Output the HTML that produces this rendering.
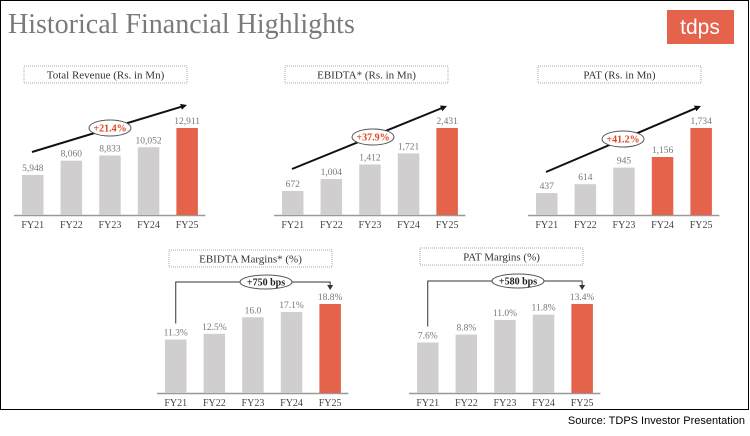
<!DOCTYPE html>
<html><head><meta charset="utf-8"><style>
body{margin:0;background:#fff;width:750px;height:431px;overflow:hidden;font-family:"Liberation Serif",serif}
svg text{font-family:"Liberation Serif",serif}
</style></head><body>
<svg id="s" width="750" height="431" xmlns="http://www.w3.org/2000/svg">
<rect x="0.5" y="0.5" width="748" height="409" fill="#fff" stroke="#000"/>
<text x="8" y="33" font-size="28" fill="#7a7a7a">Historical Financial Highlights</text>
<rect x="667" y="10" width="67" height="34" fill="#e5624b"/>
<text x="700" y="34" font-size="21" fill="#fff" text-anchor="middle" style="font-family:'Liberation Sans',sans-serif">tdps</text>
<text x="745" y="424" font-size="11" fill="#000" text-anchor="end" style="font-family:'Liberation Sans',sans-serif">Source: TDPS Investor Presentation</text>
</svg>
<script>
const categories=["FY21","FY22","FY23","FY24","FY25"];
const revenueValues=[5948,8060,8833,10052,12911];
const revenueLabels=["5,948","8,060","8,833","10,052","12,911"];
const ebitdaValues=[672,1004,1412,1721,2431];
const ebitdaLabels=["672","1,004","1,412","1,721","2,431"];
const patValues=[437,614,945,1156,1734];
const patLabels=["437","614","945","1,156","1,734"];
const ebitdaMarginValues=[11.3,12.5,16.0,17.1,18.8];
const ebitdaMarginLabels=["11.3%","12.5%","16.0","17.1%","18.8%"];
const patMarginValues=[7.6,8.8,11.0,11.8,13.4];
const patMarginLabels=["7.6%","8.8%","11.0%","11.8%","13.4%"];
const NS="http://www.w3.org/2000/svg",svg=document.getElementById('s');
function el(t,a,txt){const e=document.createElementNS(NS,t);for(const k in a)e.setAttribute(k,a[k]);if(txt!==undefined)e.textContent=txt;svg.appendChild(e);return e;}
function chart(o){
  const {x0,base,maxH,vals,labs,red,title,tx,ty,key}=o;
  const maxV=Math.max(...vals);
  const y=v=>base-v/maxV*maxH;
  const bx=i=>x0+i*38.6;
  const t=el('rect',{x:tx,y:ty,width:163,height:17,fill:'#fff',stroke:'#aaa','stroke-dasharray':'1,1'});
  
  const tt=el('text',{x:tx+81.5,y:ty+12.5,'font-size':11,'text-anchor':'middle',fill:'#333'},title);
  
  const ax=el('line',{x1:x0-8,x2:x0+4*38.6+29,y1:base+0.5,y2:base+0.5,stroke:'#999','stroke-width':1.5});
  
  vals.forEach((v,i)=>{
    const r=el('rect',{x:bx(i),y:y(v),width:21.5,height:base-y(v),fill:red.includes(i)?'#e5624b':'#d0cece'});
    
    const l=el('text',{x:bx(i)+10.75,y:y(v)-4,'font-size':9.5,'text-anchor':'middle',fill:'#777'},labs[i]);
    
    const c=el('text',{x:bx(i)+10.75,y:base+13,'font-size':10,'text-anchor':'middle',fill:'#444'},categories[i]);
    
  });
  return {y,bx};
}
function growArrow(x1,y1,x2,y2,cx,cy,txt,key){
  const a=Math.atan2(y2-y1,x2-x1),s=7;
  const l=el('line',{x1,y1,x2:x2-4*Math.cos(a),y2:y2-4*Math.sin(a),stroke:'#111','stroke-width':2});
  
  const h=el('polygon',{points:`${x2},${y2} ${x2-s*Math.cos(a-0.45)},${y2-s*Math.sin(a-0.45)} ${x2-s*Math.cos(a+0.45)},${y2-s*Math.sin(a+0.45)}`,fill:'#111'});
  
  const e=el('ellipse',{cx,cy,rx:21,ry:8,fill:'#fff',stroke:'#555'});
  
  const t=el('text',{x:cx,y:cy+3.5,'font-size':10,'text-anchor':'middle',fill:'#e5401f','font-weight':'bold'},txt);
  
}
function bracket(c,vals,top,cx,txt,key){
  const xa=c.bx(0)+10.75,xb=c.bx(4)+10.75;
  const p=el('path',{d:`M${xa},${c.y(vals[0])-16} V${top} H${xb} V${c.y(vals[4])-18}`,fill:'none',stroke:'#333','stroke-width':1});
  
  const h=el('polygon',{points:`${xb-3},${c.y(vals[4])-19} ${xb+3},${c.y(vals[4])-19} ${xb},${c.y(vals[4])-14}`,fill:'#333'});
  
  const e=el('ellipse',{cx,cy:top,rx:26,ry:7,fill:'#fff',stroke:'#555'});
  
  const t=el('text',{x:cx,y:top+3.5,'font-size':10,'text-anchor':'middle',fill:'#222','font-weight':'bold'},txt);
  
}
chart({x0:22,base:215,maxH:87,vals:revenueValues,labs:revenueLabels,red:[4],title:'Total Revenue (Rs. in Mn)',tx:24,ty:66,key:'revenue'});
growArrow(32,152,187,105,110,128,'+21.4%','revenue');
chart({x0:282,base:215,maxH:87,vals:ebitdaValues,labs:ebitdaLabels,red:[4],title:'EBIDTA* (Rs. in Mn)',tx:285,ty:66,key:'ebitda'});
growArrow(292,169,447,106,373,137,'+37.9%','ebitda');
chart({x0:536,base:215,maxH:87,vals:patValues,labs:patLabels,red:[3,4],title:'PAT (Rs. in Mn)',tx:538,ty:66,key:'pat'});
growArrow(546,172,701,106,623,139,'+41.2%','pat');
const c4=chart({x0:165,base:393,maxH:89,vals:ebitdaMarginValues,labs:ebitdaMarginLabels,red:[4],title:'EBIDTA Margins* (%)',tx:169,ty:250,key:'ebitda-margin'});
bracket(c4,ebitdaMarginValues,282,266,'+750 bps','ebitda-margin');
const c5=chart({x0:417,base:393,maxH:89,vals:patMarginValues,labs:patMarginLabels,red:[4],title:'PAT Margins (%)',tx:420,ty:248,key:'pat-margin'});
bracket(c5,patMarginValues,281,518,'+580 bps','pat-margin');
</script>
</body></html>
